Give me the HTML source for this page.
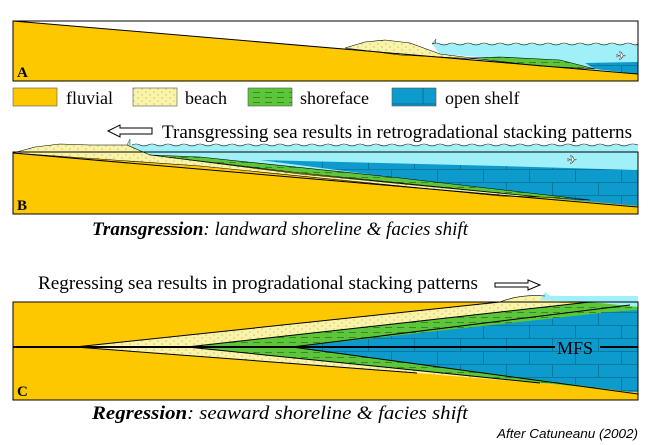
<!DOCTYPE html>
<html><head><style>
body{margin:0;background:#fff;width:650px;height:445px;overflow:hidden}
svg{display:block}
.t{font-family:"Liberation Serif",serif;fill:#000}
</style></head><body>
<svg width="650" height="445" viewBox="0 0 650 445">
<defs>
<pattern id="dots" width="8" height="6" patternUnits="userSpaceOnUse"><rect width="8" height="6" fill="#fbf3a6"/><circle cx="2" cy="2" r="0.5" fill="#777"/><circle cx="6" cy="5" r="0.5" fill="#777"/></pattern>
<pattern id="dash" width="12" height="5" patternUnits="userSpaceOnUse"><rect width="12" height="5" fill="#5dc53a"/><line x1="1" y1="2.5" x2="8" y2="2.5" stroke="#2d7a1e" stroke-width="0.8"/></pattern>
<pattern id="brick" width="46" height="26" patternUnits="userSpaceOnUse"><rect width="46" height="26" fill="#0c9bcc"/><path d="M0 0.5H46M0 13.5H46M0.5 0V13M23.5 13V26" stroke="#0a6f96" stroke-width="0.8" fill="none"/></pattern>
</defs>

<!-- Panel A -->
<rect x="13" y="21" width="625" height="60" fill="#fec800" stroke="#000"/>
<polygon points="13,21 638,21 638,74" fill="#fff"/>
<polygon points="432,44 638,44 638,73 600,70 520,60 440,54" fill="#9ff0f8"/>
<path d="M432,44 l4,-5 l-1,5" fill="#9ff0f8" stroke="#333" stroke-width="0.5"/>
<polygon points="345,48 365,42 385,40 410,43 440,54 480,59 400,55" fill="url(#dots)" stroke="#000" stroke-width="0.6"/>
<polygon points="470,58 500,57 560,60 595,69 540,66" fill="url(#dash)" stroke="#000" stroke-width="0.6"/>
<polygon points="585,63 638,62 638,74 595,69" fill="url(#brick)"/>
<line x1="13" y1="21" x2="638" y2="74" stroke="#000" stroke-width="1"/>
<path d="M432,44 Q436,42 440,44 T448,44 T456,44 T464,44 T472,44 T480,44 T488,44 T496,44 T504,44 T512,44 T520,44 T528,44 T536,44 T544,44 T552,44 T560,44 T568,44 T576,44 T584,44 T592,44 T600,44 T608,44 T616,44 T624,44 T632,44 T638,44" stroke="#000" stroke-width="0.6" fill="none"/>
<text x="616" y="60" font-size="12" fill="#fff" stroke="#444" stroke-width="0.4">✈</text>
<rect x="13" y="21" width="625" height="60" fill="none" stroke="#000"/>
<text x="17" y="77" class="t" font-size="15" font-weight="bold">A</text>

<!-- Legend -->
<rect x="13" y="88" width="44" height="18" fill="#fec800" stroke="#555" stroke-width="0.6"/>
<text x="66" y="104" class="t" font-size="18">fluvial</text>
<rect x="133" y="88" width="44" height="18" fill="url(#dots)" stroke="#555" stroke-width="0.6"/>
<text x="185" y="104" class="t" font-size="18">beach</text>
<rect x="248" y="88" width="44" height="18" fill="url(#dash)" stroke="#555" stroke-width="0.6"/>
<text x="300" y="104" class="t" font-size="18">shoreface</text>
<rect x="392" y="88" width="44" height="18" fill="#0c9bcc" stroke="#555" stroke-width="0.6"/>
<path d="M392,104H436M423,88V104" stroke="#0a6f96"/>
<text x="445" y="104" class="t" font-size="18">open shelf</text>

<!-- Panel B -->
<polygon points="108,131 120,125 120,128 152,128 152,134 120,134 120,137" fill="#fff" stroke="#000" stroke-width="1"/>
<text x="162" y="138" class="t" font-size="19" textLength="470" lengthAdjust="spacingAndGlyphs">Transgressing sea results in retrogradational stacking patterns</text>
<rect x="13" y="152" width="625" height="62" fill="#fec800" stroke="#000"/>
<polygon points="127,145 638,145 638,205 560,198 300,170 140,156" fill="#9ff0f8"/>
<path d="M127,145 l3,-6 l0,6" fill="#9ff0f8" stroke="#333" stroke-width="0.5"/>
<polygon points="260,160 500,166 638,170 638,206 560,199" fill="url(#brick)"/>
<polygon points="150,155 200,157 400,178 590,200 540,197 300,173" fill="url(#dash)" stroke="#000" stroke-width="0.6"/>
<polygon points="13,153 35,147 60,144 90,145 127,145 150,155 300,174 540,197 500,196 200,166" fill="url(#dots)" stroke="#000" stroke-width="0.6"/>
<line x1="13" y1="153" x2="638" y2="207" stroke="#000"/>
<path d="M132,145 Q136,143 140,145 T148,145 T156,145 T164,145 T172,145 T180,145 T188,145 T196,145 T204,145 T212,145 T220,145 T228,145 T236,145 T244,145 T252,145 T260,145 T268,145 T276,145 T284,145 T292,145 T300,145 T308,145 T316,145 T324,145 T332,145 T340,145 T348,145 T356,145 T364,145 T372,145 T380,145 T388,145 T396,145 T404,145 T412,145 T420,145 T428,145 T436,145 T444,145 T452,145 T460,145 T468,145 T476,145 T484,145 T492,145 T500,145 T508,145 T516,145 T524,145 T532,145 T540,145 T548,145 T556,145 T564,145 T572,145 T580,145 T588,145 T596,145 T604,145 T612,145 T620,145 T628,145 T638,145" stroke="#000" stroke-width="0.6" fill="none"/>
<text x="567" y="164" font-size="12" fill="#fff" stroke="#444" stroke-width="0.4">✈</text>
<rect x="13" y="152" width="625" height="62" fill="none" stroke="#000"/>
<text x="17" y="210" class="t" font-size="15" font-weight="bold">B</text>
<text x="92" y="235" class="t" font-size="19" font-style="italic" textLength="376" lengthAdjust="spacingAndGlyphs"><tspan font-weight="bold">Transgression</tspan>: landward shoreline &amp; facies shift</text>

<!-- Panel C -->
<text x="38" y="289" class="t" font-size="19" textLength="440" lengthAdjust="spacingAndGlyphs">Regressing sea results in progradational stacking patterns</text>
<polygon points="495,283 528,283 528,280 540,285 528,290 528,287 495,287" fill="#fff" stroke="#000"/>
<rect x="13" y="302" width="625" height="98" fill="#fec800" stroke="#000"/>
<polygon points="75,347 500,302 545,296 560,303 620,304 630,305 638,305 638,390 620,390 417,373" fill="url(#dots)"/>
<polygon points="187,347 590,302 630,304 638,306 638,392 540,383" fill="url(#dash)"/>
<polygon points="292,347 610,312 638,310 638,392 630,392" fill="url(#brick)"/>
<polygon points="540,300 545,292 550,296 638,296 638,307 600,303" fill="#9ff0f8"/>
<path d="M75,347 L500,302 M187,347 L590,302 M292,347 L630,305 M75,347 L417,373 M187,347 L540,383 M292,347 L638,394" stroke="#000" stroke-width="1" fill="none"/>
<path d="M500,302 Q520,294 545,296" stroke="#000" stroke-width="0.6" fill="#fbf3a6"/>
<line x1="13" y1="347" x2="555" y2="347" stroke="#000" stroke-width="2"/>
<line x1="600" y1="347" x2="638" y2="347" stroke="#000" stroke-width="2"/>
<text x="557" y="354" class="t" font-size="18">MFS</text>
<rect x="13" y="302" width="625" height="98" fill="none" stroke="#000"/>
<text x="17" y="396" class="t" font-size="15" font-weight="bold">C</text>
<text x="92" y="419" class="t" font-size="19" font-style="italic" textLength="376" lengthAdjust="spacingAndGlyphs"><tspan font-weight="bold">Regression</tspan>: seaward shoreline &amp; facies shift</text>
<text x="497" y="438" font-family="Liberation Sans,sans-serif" font-size="13" font-style="italic" textLength="141" lengthAdjust="spacingAndGlyphs">After Catuneanu (2002)</text>
</svg>
</body></html>
